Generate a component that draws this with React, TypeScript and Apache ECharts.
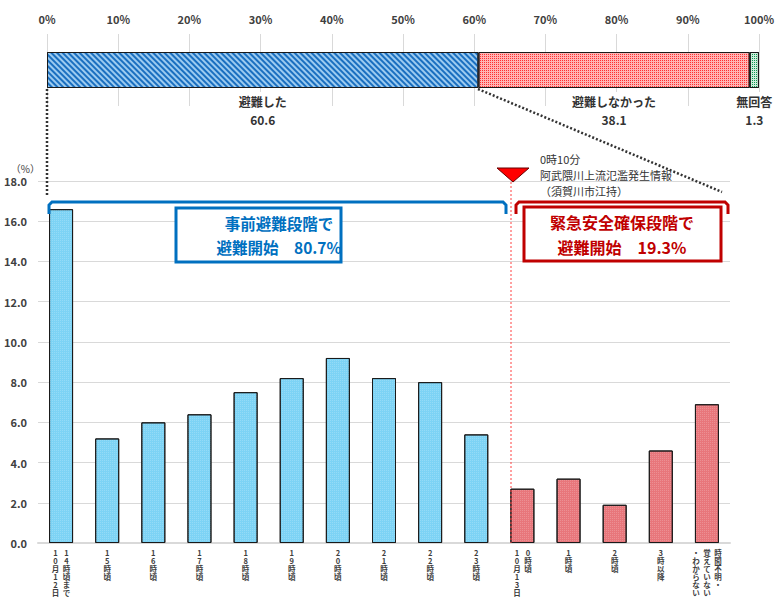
import React, { useEffect, useRef } from "react";
import * as echarts from "echarts";

const FONT = '"Noto Sans CJK JP", "Noto Sans", sans-serif';

const summaryNames = ["避難した", "避難しなかった", "無回答"];
const summaryValues = [60.6, 38.1, 1.3];

// columns of each vertical label, right column first, separated by "|"
const categories = [
  "14時頃まで|10月12日",
  "15時頃",
  "16時頃",
  "17時頃",
  "18時頃",
  "19時頃",
  "20時頃",
  "21時頃",
  "22時頃",
  "23時頃",
  "0時頃|10月13日",
  "1時頃",
  "2時頃",
  "3時以降",
  "時間不明・|覚えていない|・わからない",
];
const beforeValues = [16.6, 5.2, 6.0, 6.4, 7.5, 8.2, 9.2, 8.2, 8.0, 5.4];
const afterValues = [2.7, 3.2, 1.9, 4.6, 6.9];

const beforeText = ["事前避難段階で", "避難開始　80.7%"];
const afterText = ["緊急安全確保段階で", "避難開始　19.3%"];
const alertText = ["0時10分", "阿武隈川上流氾濫発生情報", "（須賀川市江持）"];

export default function App() {
  const ref = useRef<HTMLDivElement>(null);
  useEffect(() => {
    if (!ref.current) return;
    const chart = echarts.init(ref.current, undefined, { renderer: "svg" });

    const blueStyle = {
      color: "#7dd3f5",
      borderColor: "#1a1a1a",
      borderWidth: 1,
      decal: { symbol: "rect", symbolSize: 1, dashArrayX: [1, 1], dashArrayY: [1, 1], color: "rgba(255,255,255,0.18)" },
    };
    const redStyle = {
      color: "#e8767b",
      borderColor: "#1a1a1a",
      borderWidth: 1,
      decal: { symbol: "rect", symbolSize: 1, dashArrayX: [1, 1], dashArrayY: [1, 1], color: "rgba(255,255,255,0.18)" },
    };
    const barData = [
      ...beforeValues.map((v) => ({ value: v, itemStyle: blueStyle })),
      ...afterValues.map((v) => ({ value: v, itemStyle: redStyle })),
    ];

    const summaryStyles = [
      { color: "#9ccbf0", decal: { symbol: "rect", symbolSize: 1, dashArrayX: [1, 0], dashArrayY: [2, 2], rotation: Math.PI / 4, color: "#1a6fc0" } },
      { color: "#ffb4b4", decal: { symbol: "rect", symbolSize: 1, dashArrayX: [1, 1], dashArrayY: [1, 1], color: "#ff3030" } },
      { color: "#cdeedb", decal: { symbol: "rect", symbolSize: 1, dashArrayX: [1, 1], dashArrayY: [1, 1], color: "#0f9650" } },
    ];

    const vLabel = (v: string) => {
      const cols = v.split("|").map((s) => Array.from(s)).reverse();
      const n = Math.max(...cols.map((c) => c.length));
      const lines: string[] = [];
      for (let i = 0; i < n; i++) {
        lines.push(cols.map((c) => `{c|${c[i] ?? " "}}`).join(""));
      }
      return lines.join("\n");
    };

    const gridL = 38, gridR = 730, gridT = 181, gridB = 543;

    chart.setOption({
      animation: false,
      textStyle: { fontFamily: FONT },
      grid: [
        { left: 47, right: 12, top: 34, height: 72 },
        { left: gridL, right: 777 - gridR, top: gridT, bottom: 597 - gridB },
      ],
      xAxis: [
        {
          gridIndex: 0,
          type: "value",
          position: "top",
          min: 0,
          max: 100,
          interval: 10,
          axisLine: { show: false },
          axisTick: { show: false },
          axisLabel: { formatter: "{value}%", fontSize: 11, fontWeight: "bold", color: "#404040", margin: 10 },
          splitLine: { lineStyle: { color: "#d9d9d9" } },
        },
        {
          gridIndex: 1,
          type: "category",
          data: categories,
          axisTick: { show: false },
          axisLine: { lineStyle: { color: "#d9d9d9", width: 2 } },
          axisLabel: {
            interval: 0,
            margin: 5,
            formatter: vLabel,
            rich: {
              c: { width: 11, align: "center", fontSize: 7.5, lineHeight: 8, fontWeight: "bold", color: "#404040", fontFamily: FONT },
            },
          },
        },
      ],
      yAxis: [
        { gridIndex: 0, type: "category", data: [""], show: false },
        {
          gridIndex: 1,
          type: "value",
          min: 0,
          max: 18,
          interval: 2,
          name: "（%）",
          nameGap: 13,
          nameTextStyle: { align: "right", verticalAlign: "middle", fontSize: 10, color: "#404040", padding: [0, -2, 0, 0] },
          axisLine: { show: false },
          axisTick: { show: false },
          axisLabel: { formatter: (v: number) => v.toFixed(1), fontSize: 11, fontWeight: "bold", color: "#404040", margin: 11 },
          splitLine: { lineStyle: { color: "#d9d9d9" } },
        },
      ],
      series: [
        ...summaryNames.map((name, i) => ({
          name,
          type: "bar",
          xAxisIndex: 0,
          yAxisIndex: 0,
          stack: "total",
          barWidth: 36,
          data: [summaryValues[i]],
          itemStyle: { ...summaryStyles[i], borderColor: "#1a1a1a", borderWidth: 1 },
          label: {
            show: true,
            position: "bottom",
            distance: 4,
            formatter: (p: any) => `${p.seriesName}\n${p.value}`,
            fontSize: 12,
            lineHeight: 18,
            fontWeight: "bold",
            color: "#333",
            backgroundColor: "#fff",
          },
        })),
        {
          type: "bar",
          xAxisIndex: 1,
          yAxisIndex: 1,
          barWidth: 24,
          data: barData,
        },
      ],
      graphic: [
        // dotted connectors
        { type: "line", shape: { x1: 47, y1: 89, x2: 47, y2: 195 }, style: { stroke: "#333", lineWidth: 2.5, lineDash: [2, 2] }, z: 10 },
        { type: "line", shape: { x1: 478, y1: 89, x2: 722, y2: 192 }, style: { stroke: "#333", lineWidth: 2.5, lineDash: [2, 2] }, z: 10 },
        // alert marker
        { type: "line", shape: { x1: 511, y1: 182, x2: 511, y2: gridB }, style: { stroke: "#ff4040", lineWidth: 1, lineDash: [2, 2] }, z: 10 },
        { type: "polygon", shape: { points: [[497, 168], [529, 168], [513, 182]] }, style: { fill: "#ff0000", stroke: "#600", lineWidth: 1 }, z: 11 },
        {
          type: "text", x: 540, y: 151, z: 11,
          style: { text: alertText.join("\n"), fontSize: 11, lineHeight: 16, fill: "#333", fontFamily: FONT },
        },
        // brackets
        { type: "polyline", shape: { points: [[49, 214], [49, 205], [52, 202], [503, 202], [506, 205], [506, 214]] }, style: { stroke: "#0070c0", lineWidth: 3, fill: null }, z: 10 },
        { type: "polyline", shape: { points: [[516, 214], [516, 205], [519, 202], [725, 202], [728, 205], [728, 214]] }, style: { stroke: "#c00000", lineWidth: 3, fill: null }, z: 10 },
        // boxes
        { type: "rect", shape: { x: 176, y: 208, width: 165, height: 54 }, style: { fill: "#fff", stroke: "#0070c0", lineWidth: 3 }, z: 10 },
        {
          type: "text", x: 279, y: 235, z: 11,
          style: { text: beforeText.join("\n"), fontSize: 15.5, lineHeight: 24, fontWeight: "bold", fill: "#0070c0", align: "center", verticalAlign: "middle", fontFamily: FONT },
        },
        { type: "rect", shape: { x: 524, y: 207, width: 197, height: 54 }, style: { fill: "#fff", stroke: "#c00000", lineWidth: 3 }, z: 10 },
        {
          type: "text", x: 622, y: 234, z: 11,
          style: { text: afterText.join("\n"), fontSize: 16, lineHeight: 25, fontWeight: "bold", fill: "#c00000", align: "center", verticalAlign: "middle", fontFamily: FONT },
        },
      ],
    });
    return () => chart.dispose();
  }, []);
  return <div ref={ref} style={{ position: "fixed", left: 0, top: 0, width: 777, height: 597, background: "#fff" }} />;
}
